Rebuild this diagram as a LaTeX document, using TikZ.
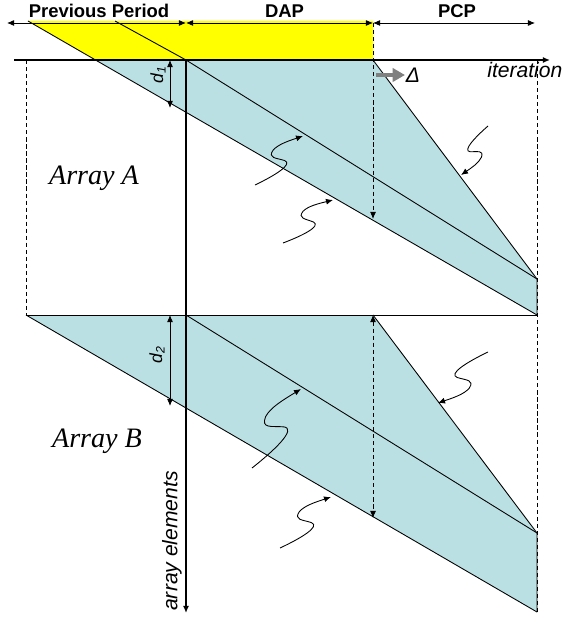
\documentclass[tikz,border=0pt]{standalone}
\usepackage{fontspec}
\setmainfont{Liberation Serif}
\setsansfont{Liberation Sans}
\usetikzlibrary{calc,arrows.meta}

\definecolor{dapyellow}{RGB}{255,255,0}
\definecolor{arrblue}{RGB}{187,224,227}
\definecolor{shiftgray}{RGB}{128,128,128}

\tikzset{
  thinline/.style={line width=0.5pt},
  axisline/.style={line width=0.9pt},
  guide/.style={line width=0.5pt, dash pattern=on 2.4pt off 1.6pt},
  period/.style={font=\sffamily\bfseries\fontsize{10.5}{12}\selectfont, anchor=base, inner sep=0pt},
  axlabel/.style={font=\sffamily\itshape\fontsize{12}{14}\selectfont, inner sep=0pt},
  arrlabel/.style={font=\itshape\fontsize{16}{18}\selectfont, inner sep=0pt},
  dlabel/.style={font=\sffamily\itshape\fontsize{10}{12}\selectfont, rotate=90, inner sep=0pt},
}

% wavy pointer from tail #1 to head #2
\newcommand{\squig}[2]{%
  \draw[thinline,->] (#1)
    .. controls ($(#1)!0.32!-20:(#2)$) and ($(#1)!0.64!-17:(#2)$) .. ($(#1)!0.56!-6:(#2)$)
    .. controls ($(#1)!0.50!7:(#2)$) and ($(#1)!0.43!19:(#2)$) .. ($(#1)!0.57!17:(#2)$)
    .. controls ($(#1)!0.68!15:(#2)$) and ($(#1)!0.81!7:(#2)$) .. (#2);}

\begin{document}
\begin{tikzpicture}[x=0.02cm,y=-0.02cm,>={Latex[length=4pt,width=3.4pt]}]
  \useasboundingbox (0,0) rectangle (564,618);
  \def\yA{60}    % iteration axis / top of array A
  \def\yB{315}   % top of array B
  \def\xAx{186}  % array-elements axis
  \def\xDap{373} % end of DAP
  \def\xEnd{537} % last iteration

  % key points
  \coordinate (prevL) at (7,23);
  \coordinate (dapL)  at (\xAx,23);
  \coordinate (pcpL)  at (\xDap,23);
  \coordinate (pcpR)  at (535,23);
  \coordinate (itL)   at (14,\yA);
  \coordinate (itR)   at (550,\yA);
  \coordinate (axTop) at (\xAx,\yA);
  \coordinate (axBot) at (\xAx,613);

  % array A lines
  \coordinate (aLowS) at (28,21);
  \coordinate (aLowX) at (95.5,\yA);
  \coordinate (aLowE) at (\xEnd,\yB);
  \coordinate (aUpS)  at (115,21);
  \coordinate (aUpE)  at (\xEnd,279);
  \coordinate (aPcp)  at (\xDap,\yA);
  \coordinate (aDapT) at (\xDap,21);
  \coordinate (aDapB) at (\xDap,219);

  % array B lines
  \coordinate (bL)    at (26,\yB);
  \coordinate (bR)    at (\xEnd,\yB);
  \coordinate (bUpS)  at (\xAx,\yB);
  \coordinate (bUpE)  at (\xEnd,533);
  \coordinate (bLowE) at (\xEnd,612);
  \coordinate (bPcp)  at (\xDap,\yB);
  \coordinate (bDapB) at (\xDap,518);

  % shaded regions
  \fill[dapyellow] (aLowS) -- (aDapT) -- (aPcp) -- (aLowX) -- cycle;
  \fill[arrblue] (aLowX) -- (aPcp) -- (aUpE) -- (aLowE) -- cycle;
  \fill[arrblue] (bL) -- (bPcp) -- (bUpE) -- (bLowE) -- cycle;

  % period arrows and labels
  \draw[thinline,<->] (prevL) -- (dapL);
  \draw[thinline,<->] (dapL) -- (pcpL);
  \draw[thinline,<->] (pcpL) -- (pcpR);
  \node[period] (prevlbl) at (99,18) {Previous Period};
  \node[period] (daplbl)  at (284.5,18) {DAP};
  \node[period] (pcplbl)  at (457,18) {PCP};

  % dashed guides
  \draw[guide] (26,\yA) -- (bL);
  \draw[guide] (\xEnd,\yA) -- (\xEnd,613);
  \draw[guide,->] (\xDap,23) -- (aDapB);
  \draw[guide,<->] (bPcp) -- (bDapB);

  % array A
  \draw[thinline] (aLowS) -- (aLowE);
  \draw[thinline] (aUpS) -- (axTop) -- (aUpE);
  \draw[thinline] (aPcp) -- (aUpE) -- (aLowE);

  % array B
  \draw[thinline] (bL) -- (bR);
  \draw[thinline] (bL) -- (bLowE);
  \draw[thinline] (bUpS) -- (bUpE);
  \draw[thinline] (bPcp) -- (bUpE) -- (bLowE);

  % axes
  \draw[axisline,->] (itL) -- (itR);
  \draw[axisline,->] (axTop) -- (axBot);
  \node[axlabel, anchor=base west] (itlbl) at (487,78) {iteration};
  \node[axlabel, rotate=90] (ellbl) at (172,541) {array elements};

  % shift of the PCP
  \coordinate (shiftS) at (376,75);
  \coordinate (shiftE) at (405,75);
  \draw[shiftgray, line width=2.4pt, -{Triangle[length=7pt,width=7.5pt]}] (shiftS) -- (shiftE);
  \node[font=\sffamily\itshape\fontsize{12}{14}\selectfont, anchor=base, inner sep=0pt] (dlt) at (413,83) {Δ};

  % distances
  \draw[thinline,<->] (170,\yA) -- (170,108);
  \draw[thinline,<->] (170,\yB) -- (170,406);
  \node[dlabel] (d1lbl) at (158,75) {d\textsubscript{1}};
  \node[dlabel] (d2lbl) at (157,355) {d\textsubscript{2}};

  \node[arrlabel] (arrA) at (94,178) {Array A};
  \node[arrlabel] (arrB) at (97,441) {Array B};

  % pointers
  \foreach \tx/\ty/\hx/\hy in {255/185/303/136, 283/243/333/200, 488/126/461/175,
                               252/468/301/389, 280/548/331/497, 488/352/438/403} {
    \coordinate (tail) at (\tx,\ty);
    \coordinate (head) at (\hx,\hy);
    \squig{tail}{head}
  }
\end{tikzpicture}
\end{document}
